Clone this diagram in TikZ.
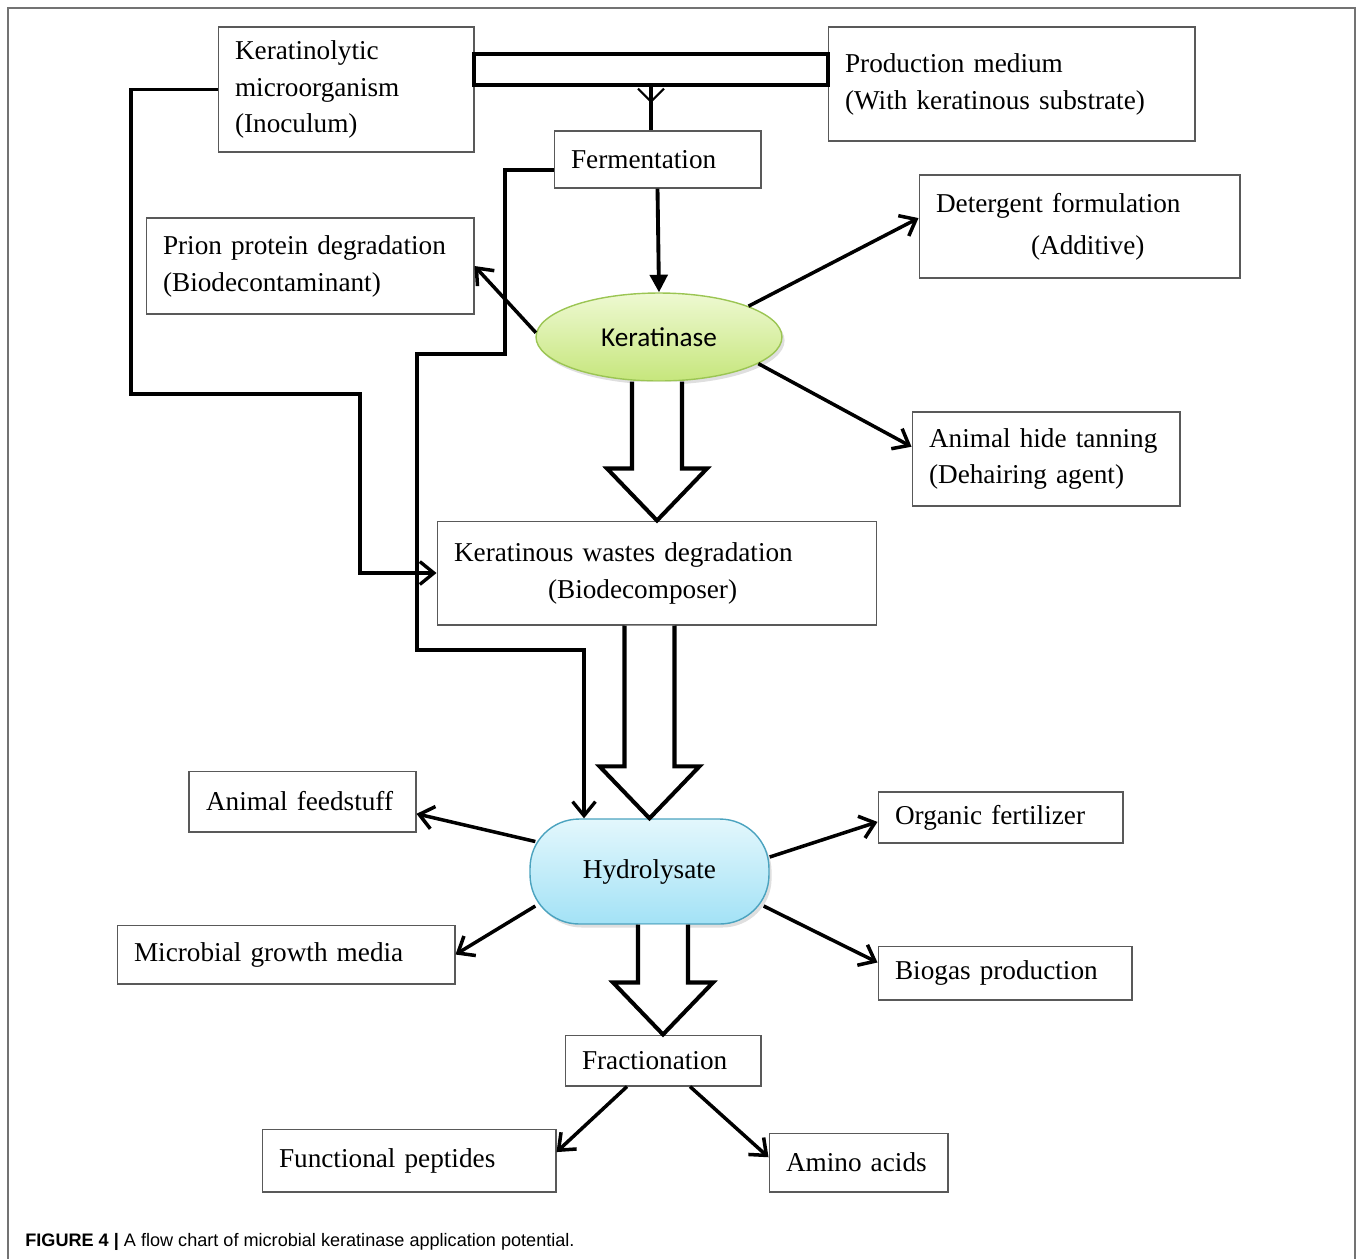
\documentclass[tikz,border=0pt]{standalone}
\usepackage{fontspec}
\setmainfont{Liberation Serif}
\newfontfamily\kerfont{Carlito}
\newfontfamily\capfont{Liberation Sans}
\usepackage{xcolor}
\usetikzlibrary{arrows.meta,shapes.geometric,positioning,calc,shadows}

\definecolor{kertop}{HTML}{EEF9D2}
\definecolor{kerbot}{HTML}{C6E67C}
\definecolor{kerline}{HTML}{9BC553}
\definecolor{hydtop}{HTML}{E3F7FC}
\definecolor{hydbot}{HTML}{A3E2F6}
\definecolor{hydline}{HTML}{4BA3BF}

\newcommand{\boxfont}{\fontsize{15.5}{21}\selectfont}
\tikzset{
  box/.style={draw=black!65, line width=0.6pt, inner xsep=0.34cm, inner ysep=0pt, align=left, font=\boxfont},
  link/.style={line width=2pt, -{Straight Barb[length=8pt,width=13pt,line width=2pt]}},
  route/.style={line width=1.9pt},
  blockarr/.style={line width=2.3pt, fill=white, line join=miter},
  frame/.style={draw=black!55, line width=0.8pt}
}
% open block arrow: #1 start coordinate, #2 tip
\newcommand{\bigarrow}[2]{%
  \draw[blockarr] ($(#1)+(-25,0)$) -- ($(#2)+(-25,-52)$) -- ($(#2)+(-50,-52)$) -- (#2)
    -- ($(#2)+(50,-52)$) -- ($(#2)+(25,-52)$) -- ($(#1)+(25,0)$);}

\begin{document}
\begin{tikzpicture}[x=0.02cm,y=-0.02cm]
\useasboundingbox (0,0) rectangle (1358,1259);
\draw[frame] (8,1259) -- (8,8) -- (1355,8) -- (1355,1259);

% top row
\node[box,text width=4.44cm,minimum height=2.5cm] (inoc) at (346,89.5) {Keratinolytic\\microorganism\\(Inoculum)};
\node[box,text width=6.66cm,minimum height=2.28cm] (prod) at (1011.5,84) {Production medium\\(With keratinous substrate)};
\node[draw,line width=1.8pt,minimum width=7.08cm,minimum height=0.62cm,inner sep=0pt] (bar) at (651,69.5) {};
\node[box,text width=3.46cm,minimum height=1.14cm] (ferm) at (657.5,159.5) {Fermentation};

% keratinase and its uses
\node[ellipse,draw=kerline,line width=0.8pt,top color=kertop,bottom color=kerbot,
  minimum width=4.92cm,minimum height=1.76cm,inner sep=0pt,
  drop shadow={opacity=0.25,shadow xshift=1.5pt,shadow yshift=-2pt},
  font=\kerfont\fontsize{15.5}{18}\selectfont] (ker) at (659,337) {Keratinase};
\node[box,text width=5.88cm,minimum height=1.92cm] (prion) at (310,266) {Prion protein degradation\\(Biodecontaminant)};
\node[box,text width=5.74cm,minimum height=2.06cm,font=\fontsize{15.5}{24}\selectfont] (deterg) at (1079.5,226.5) {Detergent formulation\\\hspace*{1.9cm}(Additive)};
\node[box,text width=4.68cm,minimum height=1.88cm] (hide) at (1046,459) {Animal hide tanning\\(Dehairing agent)};
\node[box,text width=8.12cm,minimum height=2.08cm] (wst) at (657,573) {Keratinous wastes degradation\\\hspace*{1.88cm}(Biodecomposer)};

% hydrolysate and its uses
\node[draw=hydline,line width=0.8pt,top color=hydtop,bottom color=hydbot,rounded corners=28pt,
  minimum width=4.78cm,minimum height=2.1cm,inner sep=0pt,
  drop shadow={opacity=0.25,shadow xshift=1.5pt,shadow yshift=-2pt},
  font=\boxfont] (hyd) at (649.5,871.5) {Hydrolysate};
\node[box,text width=3.86cm,minimum height=1.22cm] (feed) at (302.5,801.5) {Animal feedstuff};
\node[box,text width=4.22cm,minimum height=1.02cm] (fert) at (1000.5,817.5) {Organic fertilizer};
\node[box,text width=6.08cm,minimum height=1.18cm] (micro) at (286,954.5) {Microbial growth media};
\node[box,text width=4.4cm,minimum height=1.08cm] (biogas) at (1005,973) {Biogas production};
\node[box,text width=3.24cm,minimum height=1.02cm] (frac) at (663,1060.5) {Fractionation};
\node[box,text width=5.2cm,minimum height=1.26cm] (pept) at (409,1160.5) {Functional peptides};
\node[box,text width=2.9cm,minimum height=1.18cm] (amino) at (858.5,1162.5) {Amino acids};

% caption
\node[anchor=west,inner sep=0pt,font=\capfont\fontsize{10.3}{12}\selectfont] (cap) at (25,1242)
  {\textbf{FIGURE 4 |} A flow chart of microbial keratinase application potential.};

% inputs to fermentation
\draw[route] (bar.south) -- (bar.south |- ferm.north);
\draw[line width=1.2pt] ($(bar.south)+(-13,2)$) -- ($(bar.south)+(0,15)$) -- ($(bar.south)+(13,2)$);
\draw[line width=2.2pt,-{Triangle[length=10pt,width=10pt]}] (ferm.south) -- (ker.north);

% keratinase uses
\draw[link] (ker.178) -- (prion.east);
\draw[link] (ker.19) -- ([yshift=4.8pt]deterg.west);
\draw[link] (ker.-15) -- ([yshift=7pt]hide.west);

% side routes
\draw[route,-{Straight Barb[length=8pt,width=13pt,line width=1.9pt]}] (inoc.west) -| (131,394) -| (360,573) -- (wst.west);
\draw[route,-{Straight Barb[length=8pt,width=13pt,line width=1.9pt]}] ([yshift=-6pt]ferm.west) -| (505,354) -| (417,650) -| ($(hyd.north)+(-65.5,0)$);

% block arrows
\coordinate (s1) at (wst.north |- ker.south);
\coordinate (s2) at (hyd.north |- wst.south);
\coordinate (s3) at (frac.north |- hyd.south);
\bigarrow{s1}{wst.north}
\bigarrow{s2}{hyd.north}
\bigarrow{s3}{frac.north}

% hydrolysate uses
\draw[link] ($(hyd.west)+(6,-30)$) -- ([yshift=-7pt]feed.east);
\draw[link] ($(hyd.east)+(0,-14.5)$) -- ([yshift=-2.5pt]fert.west);
\draw[link] ($(hyd.west)+(6,34.5)$) -- (micro.east);
\draw[link] ($(hyd.east)+(-6,34.5)$) -- ([yshift=6pt]biogas.west);
\draw[link] ($(frac.south)+(-36,0)$) -- ([yshift=4.8pt]pept.east);
\draw[link] ($(frac.south)+(27,0)$) -- ([yshift=3pt]amino.west);
\end{tikzpicture}
\end{document}
